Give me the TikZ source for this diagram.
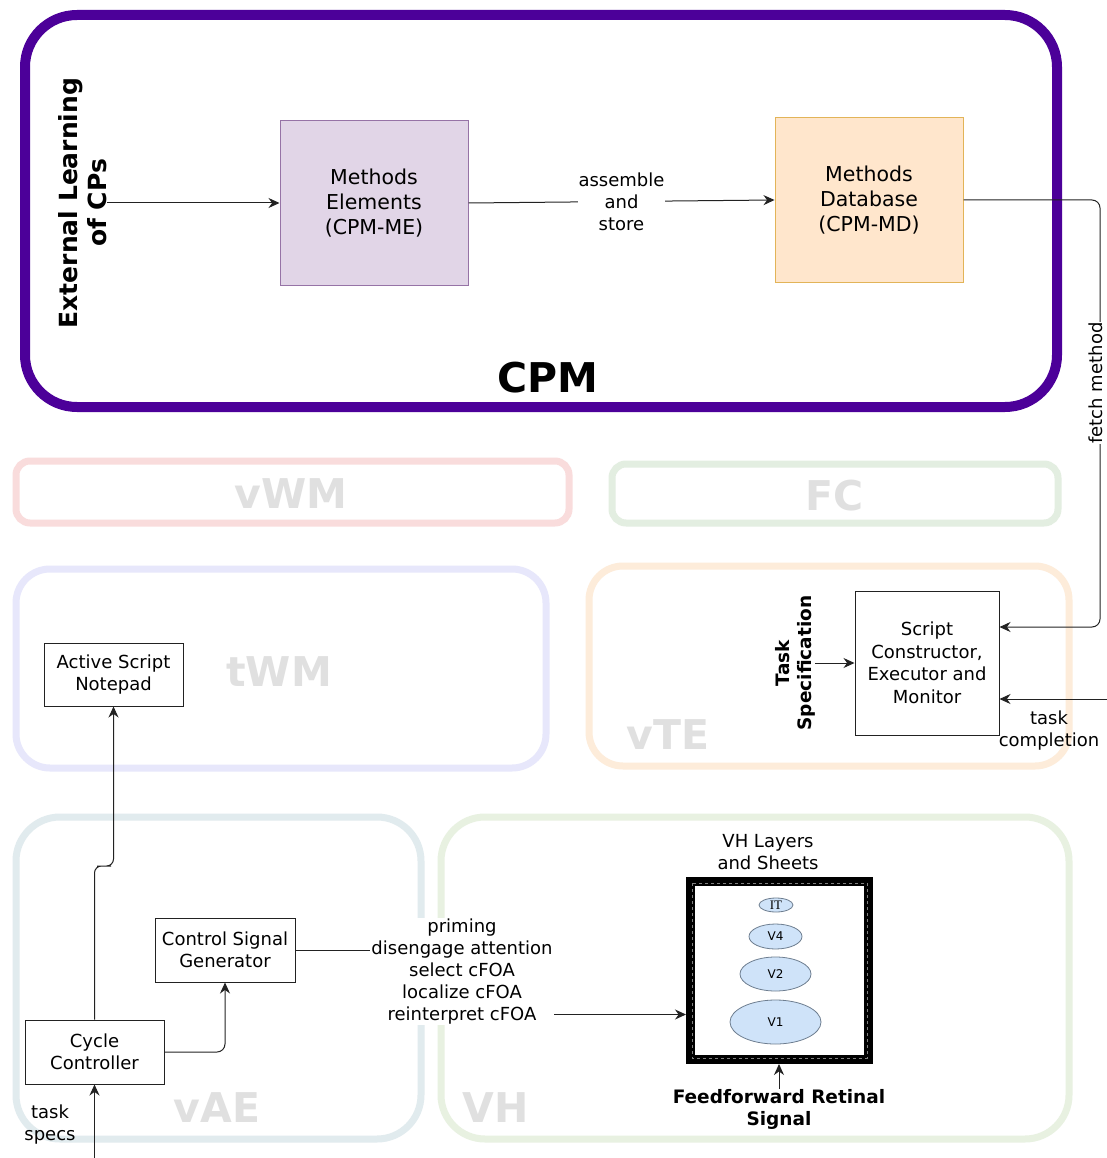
\documentclass[tikz,border=0pt]{standalone}
\usepackage{fontspec}
\setmainfont{DejaVu Sans}
\newfontfamily\layerserif{Liberation Serif}
\usetikzlibrary{arrows.meta,shapes.geometric}

\definecolor{cpmpurple}{HTML}{4C0099}
\definecolor{mefill}{HTML}{E1D5E7}
\definecolor{medraw}{HTML}{9673A6}
\definecolor{mdfill}{HTML}{FFE6CC}
\definecolor{mddraw}{HTML}{E2B458}
\definecolor{grouptext}{HTML}{E0E0E0}
\definecolor{vwmline}{HTML}{F9DCDC}
\definecolor{fcline}{HTML}{E3EEE1}
\definecolor{twmline}{HTML}{E7E7FB}
\definecolor{vteline}{HTML}{FDECDA}
\definecolor{vaeline}{HTML}{E1EBEE}
\definecolor{vhline}{HTML}{E8F1E1}
\definecolor{layerfill}{HTML}{CFE3F9}
\definecolor{layerdraw}{HTML}{6E7E90}
\definecolor{edgecol}{HTML}{222222}

\begin{document}
\begin{tikzpicture}[x=1pt,y=-1pt,
  every node/.style={align=center, inner sep=0pt},
  big/.style={font=\fontsize{20.5}{25}\selectfont},
  txt/.style={font=\fontsize{18}{22}\selectfont},
  boldtxt/.style={font=\bfseries\fontsize{18.5}{22}\selectfont},
  grouplabel/.style={font=\bfseries\fontsize{41}{44}\selectfont, text=grouptext},
  groupbox/.style={draw=#1, line width=7pt, rounded corners=14pt},
  plainbox/.style={draw=edgecol, line width=1pt, txt},
  layer/.style={ellipse, draw=layerdraw, line width=0.8pt, fill=layerfill,
    font=\fontsize{12}{14}\selectfont},
  arr/.style={draw=edgecol, line width=1pt, -{Stealth[length=11pt,width=10pt]}},
  link/.style={draw=edgecol, line width=1pt}
]
\useasboundingbox (0,0) rectangle (1107,1158);
\fill[white] (0,0) rectangle (1107,1158);

% ---- module frames ----
\node[groupbox=vwmline, minimum width=553pt, minimum height=62pt] (vwm) at (292.5,492) {};
\node[groupbox=fcline, minimum width=446pt, minimum height=59pt] (fc) at (835,493.5) {};
\node[groupbox=twmline, rounded corners=34pt, minimum width=530pt, minimum height=199pt] (twm) at (281,668.5) {};
\node[groupbox=vteline, rounded corners=34pt, minimum width=480pt, minimum height=200pt] (vte) at (829,666) {};
\node[groupbox=vaeline, rounded corners=44pt, minimum width=405pt, minimum height=322pt] (vae) at (218.5,978) {};
\node[groupbox=vhline, rounded corners=44pt, minimum width=628pt, minimum height=322pt] (vh) at (755,978) {};

\node[grouplabel] (vwmlbl) at (291,494) {vWM};
\node[grouplabel] (fclbl) at (835,496) {FC};
\node[grouplabel] (twmlbl) at (279,672) {tWM};
\node[grouplabel] (vtelbl) at (668,735) {vTE};
\node[grouplabel] (vaelbl) at (217,1108) {vAE};
\node[grouplabel] (vhlbl) at (496,1108) {VH};

% ---- CPM ----
\node[draw=cpmpurple, line width=10pt, rounded corners=52pt,
      minimum width=1032pt, minimum height=392pt] (cpm) at (541,211) {};
\node[font=\bfseries\fontsize{41}{44}\selectfont] (cpmlbl) at (548,378) {CPM};

\node[font=\bfseries\fontsize{25}{29}\selectfont, rotate=90] (ext) at (83,203)
  {External Learning\\of CPs};
\node[big, draw=medraw, fill=mefill, line width=1pt,
      minimum width=188pt, minimum height=164pt] (me) at (374,203)
  {Methods\\Elements\\(CPM-ME)};
\node[big, draw=mddraw, fill=mdfill, line width=1pt,
      minimum width=188pt, minimum height=164pt] (md) at (869,200)
  {Methods\\Database\\(CPM-MD)};

\draw[arr] (ext.south) -- (me.west);
\draw[arr] (me.east) -- (md.west)
  node[midway, fill=white, txt, inner sep=1pt] (asm) {assemble\\and\\store};

% ---- task executive ----
\node[plainbox, minimum width=144pt, minimum height=144pt, font=\fontsize{18}{22.5}\selectfont]
  (sc) at (927,663) {Script\\Constructor,\\Executor and\\Monitor};
\node[boldtxt, rotate=90] (tspec) at (795,663) {Task\\Specification};
\draw[arr] (tspec.south) -- (sc.west);

\draw[arr, rounded corners=8pt] (md.east) -| (1100,627) -- ([yshift=36pt]sc.east);
\node[txt, fill=white, rotate=90, inner sep=0.5pt] (fetch) at (1095.5,383) {fetch method};

\coordinate (tcin) at (1107,699);
\draw[arr] (tcin) -- ([yshift=-36pt]sc.east);
\node[txt] (tclbl) at (1049,731) {task\\completion};

% ---- working memory / attention executive ----
\node[plainbox, minimum width=139pt, minimum height=63pt] (asn) at (113.5,674.5)
  {Active Script\\Notepad};
\node[plainbox, minimum width=139pt, minimum height=64pt] (cc) at (94.5,1052)
  {Cycle\\Controller};
\node[plainbox, minimum width=140pt, minimum height=64pt] (csg) at (225,950)
  {Control Signal\\Generator};

\draw[arr, rounded corners=7pt] (cc.north) |- (104,866) -| (asn.south);
\draw[arr, rounded corners=8pt] (cc.east) -| (csg.south);

\coordinate (tsin) at (94.5,1158);
\draw[arr] (tsin) -- (cc.south);
\node[txt] (tslbl) at (50,1125) {task\\specs};

% ---- visual hierarchy ----
\node[draw=black, line width=9pt, minimum width=178pt, minimum height=178pt] (vhl) at (779.5,970.5) {};
\draw[gray, line width=0.6pt, dashed]
  ([xshift=6pt,yshift=-6pt]vhl.north west) rectangle ([xshift=-6pt,yshift=6pt]vhl.south east);
\node[txt] (vhllbl) at (768,852) {VH Layers\\and Sheets};

\node[layer, minimum width=34pt, minimum height=14pt, font=\layerserif\fontsize{13}{14}\selectfont] (it) at (776,905) {IT};
\node[layer, minimum width=53pt, minimum height=25pt] (v4) at (775.5,936.5) {V4};
\node[layer, minimum width=71pt, minimum height=34pt] (v2) at (775.5,974) {V2};
\node[layer, minimum width=91pt, minimum height=44pt] (v1) at (775.5,1022) {V1};

\node[boldtxt] (ff) at (779,1109) {Feedforward Retinal\\Signal};
\draw[arr] (ff.north) -- (ff.north |- vhl.south);

\coordinate (pm) at (462,971.5);
\draw[arr] (csg.east) -| (pm) |- ([yshift=-44pt]vhl.west);
\node[txt, fill=white, inner sep=1pt] (cmds) at (pm)
  {priming\\disengage attention\\select cFOA\\localize cFOA\\reinterpret cFOA};
\end{tikzpicture}
\end{document}
